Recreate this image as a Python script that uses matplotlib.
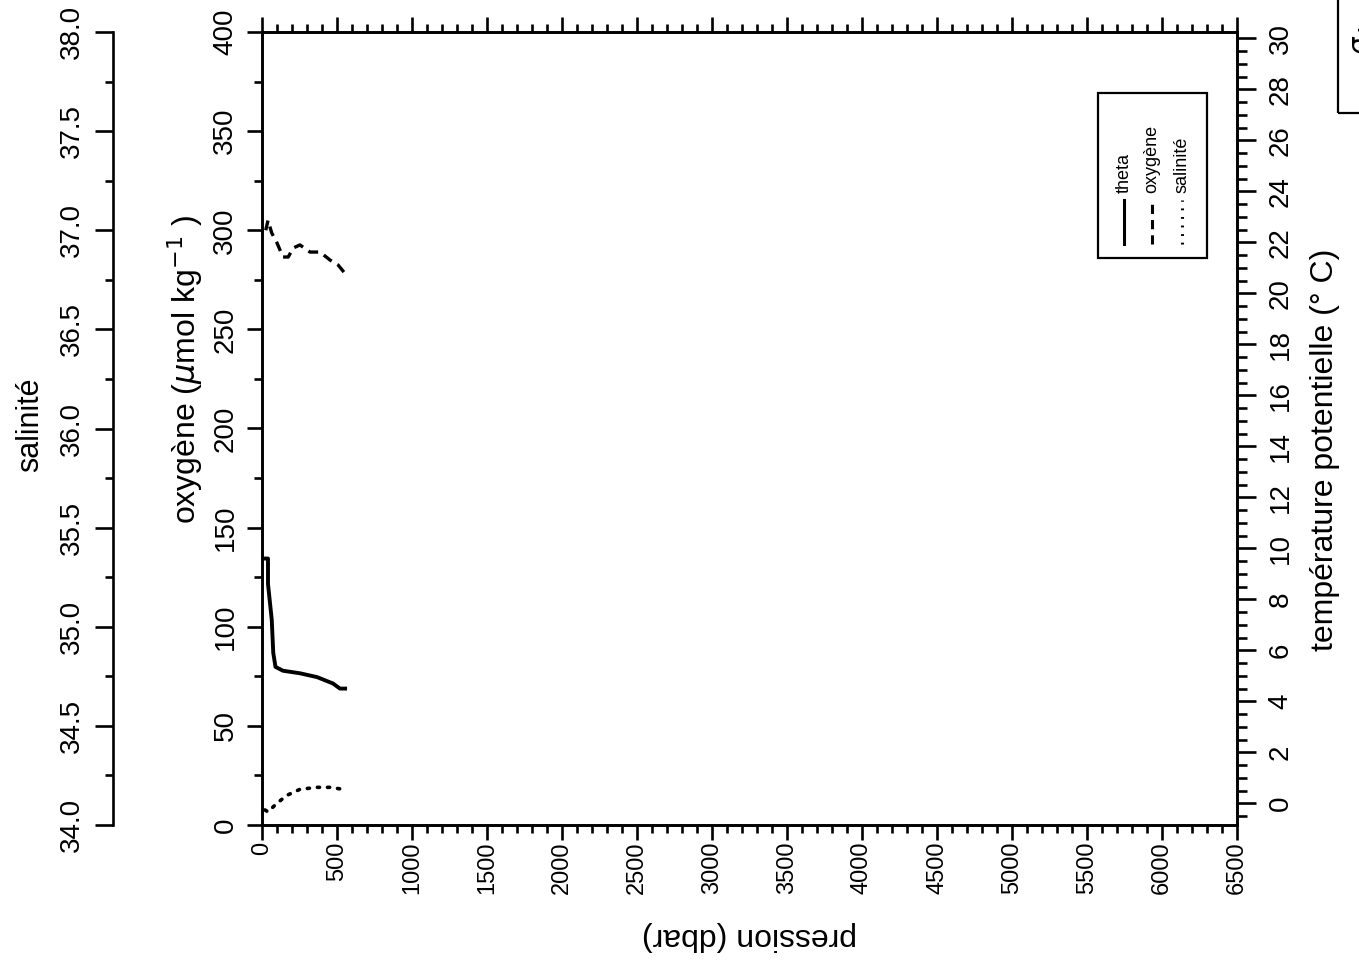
import numpy as np
import matplotlib
matplotlib.use("Agg")
import matplotlib.pyplot as plt
from matplotlib.patches import Rectangle
from matplotlib.lines import Line2D

plt.rcParams['font.family'] = ['Liberation Sans', 'DejaVu Sans']

# profiles (pression in dbar)
theta_p = [10, 40, 40, 65, 75, 90, 140, 253, 367, 473, 520, 567]
theta_v = [9.6, 9.6, 8.6, 7.2, 5.9, 5.35, 5.2, 5.1, 4.95, 4.7, 4.5, 4.5]

oxy_p = [25, 40, 65, 100, 140, 175, 207, 253, 320, 387, 453, 507, 573]
oxy_v = [300, 305, 298.6, 293.6, 286.5, 286.5, 291, 292.6, 289, 289, 285, 282.5, 276.4]

sal_p = [20, 40, 100, 167, 253, 367, 453, 540]
sal_v = [34.076, 34.066, 34.11, 34.15, 34.18, 34.19, 34.19, 34.18]

W, H = 1359, 964
fig = plt.figure(figsize=(W / 100, H / 100), dpi=100)

x0, x1, y0, y1 = 262, 1237, 32, 825
ax = fig.add_axes([x0 / W, 1 - y1 / H, (x1 - x0) / W, (y1 - y0) / H])
ax.set_xlim(0, 6500)
ax.set_ylim(0, 400)

lw = 1.9
for s in ax.spines.values():
    s.set_linewidth(lw)

ax.set_xticks(np.arange(0, 6501, 500))
ax.set_xticks(np.arange(0, 6501, 100), minor=True)
ax.set_yticks(np.arange(0, 401, 50))
ax.set_yticks(np.arange(0, 401, 25), minor=True)
ax.tick_params(axis='x', which='both', direction='out', top=True, bottom=True,
               labeltop=False, width=lw)
ax.tick_params(axis='x', which='major', length=11, pad=1, labelsize=17, labelrotation=90)
ax.tick_params(axis='x', which='minor', length=6)
ax.tick_params(axis='y', which='both', direction='out', right=False, width=lw)
ax.tick_params(axis='y', which='major', length=11, pad=6, labelsize=20, labelrotation=90)
ax.tick_params(axis='y', which='minor', length=6)

ax.set_xlabel('pression (dbar)', fontsize=23, rotation=180, va='center')
ax.xaxis.set_label_coords(0.5, -0.14)
ax.set_ylabel(r'oxygène ($\mathit{\mu}$mol kg$^{-1}$ )', fontsize=23, rotation=90, va='center')
ax.yaxis.set_label_coords(-0.079, 0.574)

ax.plot(oxy_p, oxy_v, color='black', lw=2.4, ls=(0, (3, 2)))

# temperature axis on the right
axt = ax.twinx()
axt.set_ylim(-0.85, 30.25)
axt.set_yticks(np.arange(0, 31, 2))
axt.set_yticks(np.arange(-0.5, 30.1, 0.5), minor=True)
axt.tick_params(axis='y', which='both', direction='out', width=lw)
axt.tick_params(axis='y', which='major', length=14, pad=8, labelsize=20, labelrotation=90)
axt.tick_params(axis='y', which='minor', length=7)
for s in axt.spines.values():
    s.set_linewidth(lw)
axt.set_ylabel('température potentielle (° C)', fontsize=23, rotation=90, va='center')
axt.yaxis.set_label_coords(1.09, 0.473)
axt.plot(theta_p, theta_v, color='black', lw=2.8, solid_capstyle='butt')

# detached salinity axis
axs = fig.add_axes([113 / W, 1 - y1 / H, 60 / W, (y1 - y0) / H])
axs.patch.set_visible(False)
for k in ['top', 'right', 'bottom']:
    axs.spines[k].set_visible(False)
axs.spines['left'].set_linewidth(lw)
axs.set_ylim(34, 38)
axs.set_xlim(0, 1)
axs.set_xticks([])
axs.set_yticks(np.arange(34, 38.01, 0.5))
axs.set_yticks(np.arange(34, 38.01, 0.25), minor=True)
axs.yaxis.set_major_formatter(matplotlib.ticker.FormatStrFormatter('%.1f'))
axs.tick_params(axis='y', which='both', direction='out', width=lw)
axs.tick_params(axis='y', which='major', length=13, pad=7, labelsize=20, labelrotation=90)
axs.tick_params(axis='y', which='minor', length=6)

for a in (ax, axt, axs):
    for t in a.get_yticklabels():
        t.set_va('center')
        t.set_fontsize(20)
for t in ax.get_xticklabels():
    t.set_fontsize(17)

# salinity curve drawn on the main pressure scale
axsal = ax.twinx()
axsal.set_ylim(34, 38)
axsal.axis('off')
axsal.plot(sal_p, sal_v, color='black', lw=2.6, ls=(0, (0.6, 2.2)), dash_capstyle='round')

fig.text(30 / W, 1 - 425 / H, 'salinité', rotation=90, fontsize=22, ha='center', va='center')

# legend drawn by hand (rotated text)
axl = axsal
axl.add_patch(Rectangle((0.857, 0.715), 0.112, 0.208, transform=ax.transAxes,
                        fill=False, lw=1.6, color='black', clip_on=False))
entries = [('theta', '-', 0.884), ('oxygène', (0, (3, 2)), 0.913), ('salinité', (0, (0.6, 2.2)), 0.944)]
for name, style, xf in entries:
    axl.add_line(Line2D([xf, xf], [0.733, 0.788], transform=ax.transAxes, color='black',
                        lw=2.2, ls=style, clip_on=False))
    axl.text(xf, 0.797, name, transform=ax.transAxes, rotation=90, fontsize=13,
             ha='center', va='bottom')

# edge of the neighbouring box, cut by the page border
fig.patches.append(Rectangle((1338 / W, 1 - 113 / H), 0.05, 0.2, transform=fig.transFigure,
                             fill=False, lw=1.6, color='black'))
fig.text(1350 / W, 1 - 40 / H, r'$\sigma_4$', rotation=90, fontsize=20, ha='left', va='center')

fig.savefig('out.png', dpi=100)
